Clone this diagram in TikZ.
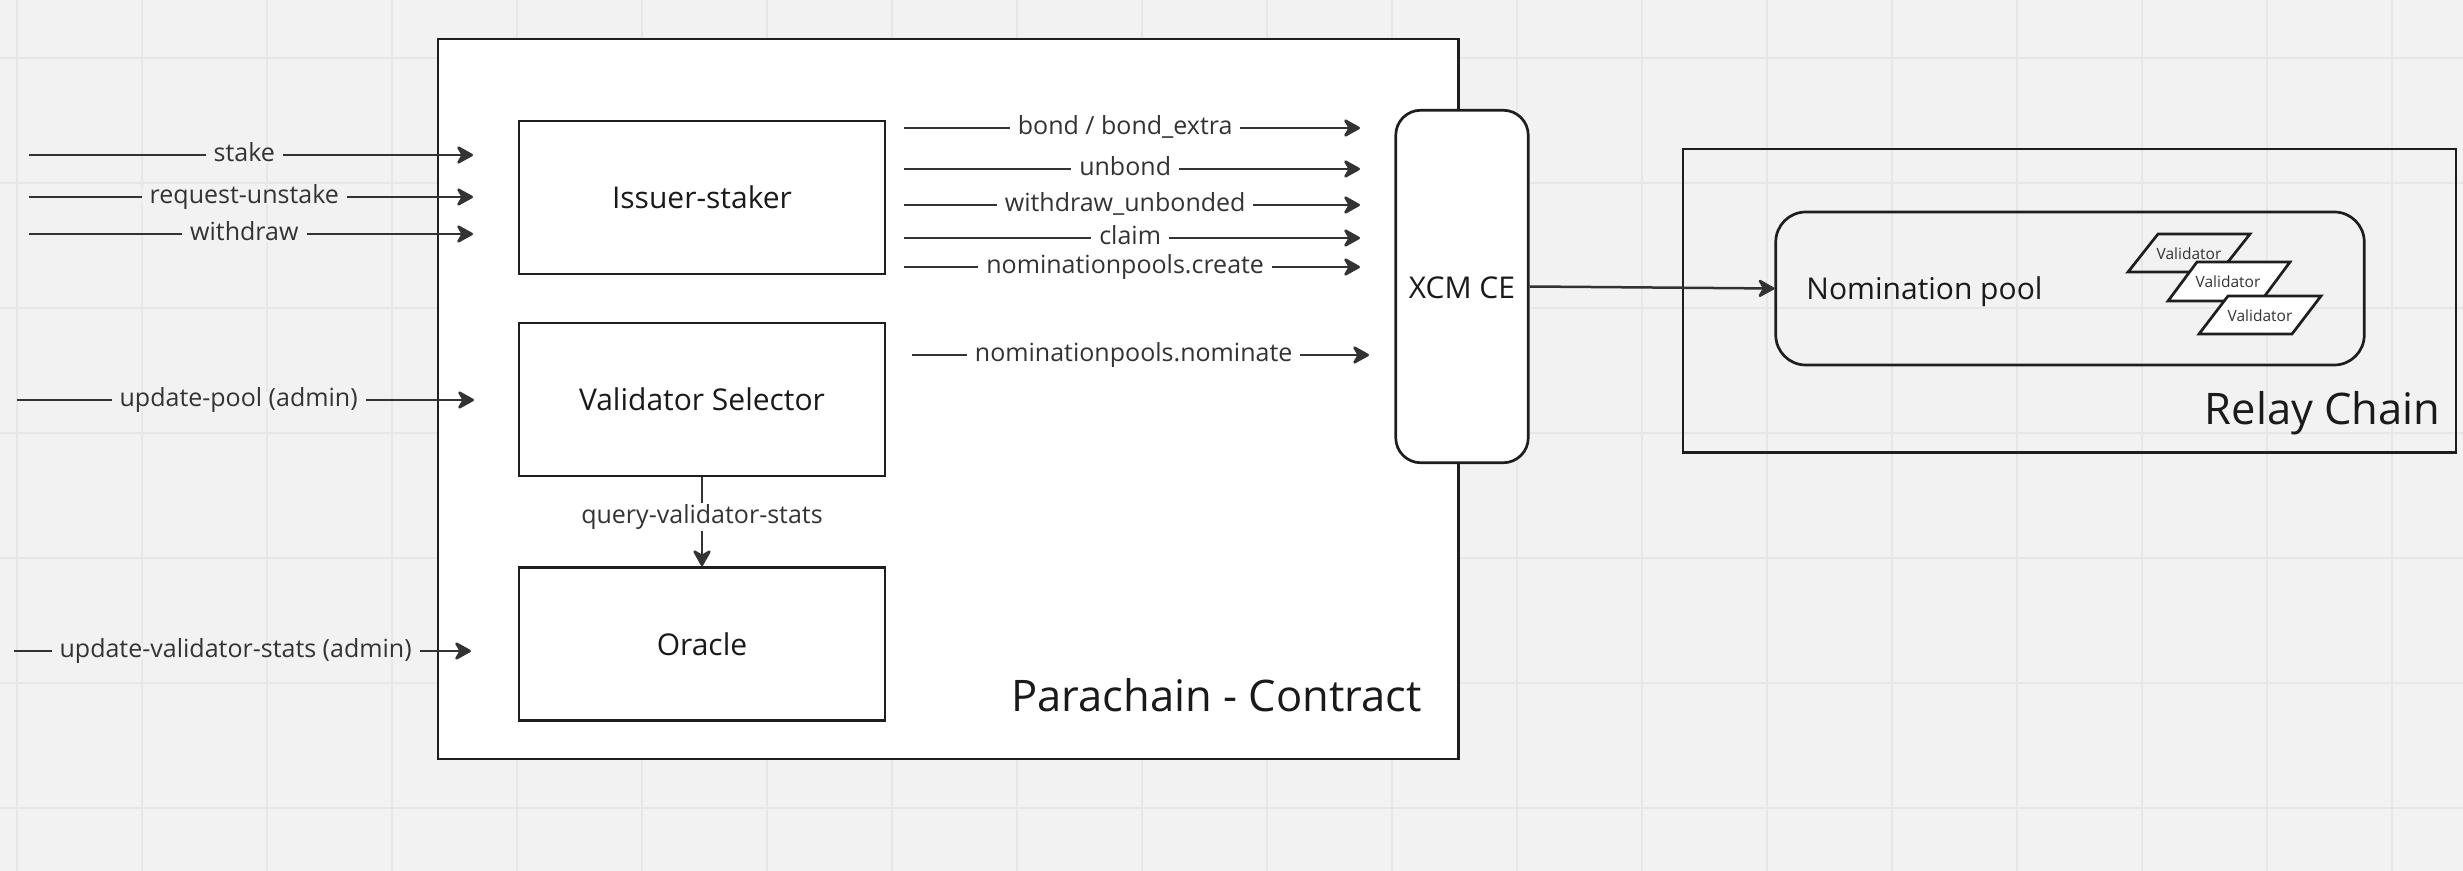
\documentclass[tikz,border=0pt]{standalone}
\usepackage{fontspec}
\setmainfont{Open Sans}
\usetikzlibrary{arrows.meta}
\definecolor{bg}{HTML}{F2F2F2}
\definecolor{gridc}{HTML}{E7E7E7}
\definecolor{linec}{HTML}{333333}
\definecolor{boxc}{HTML}{1E1E1E}
\definecolor{txtc}{HTML}{1A1A1A}
\begin{document}
\begin{tikzpicture}[x=0.5pt,y=-0.5pt,
  box/.style={draw=boxc, line width=1.35pt, fill=white, minimum width=183pt, minimum height=76.5pt, inner sep=0pt, font=\fontsize{15}{18}\selectfont, text=txtc},
  frame/.style={draw=boxc, line width=1.35pt, inner sep=0pt},
  title/.style={font=\fontsize{21.75}{26}\selectfont, text=txtc, inner sep=0pt},
  arr/.style={draw=linec, line width=1.25pt, -{Stealth[length=9.5pt,width=10.5pt,inset=3pt,round]}},
  lbl/.style={font=\fontsize{12.5}{15}\selectfont, text=linec, inner xsep=4pt, inner ysep=1pt, text height=0.62em, text depth=0pt, pos=0.485},
  vtxt/.style={font=\fontsize{7.75}{9}\selectfont, text=linec, inner sep=0pt},
  valid/.style={draw=boxc, line width=1.35pt, line join=miter}
]
\fill[bg] (0,0) rectangle (2463,871);
\useasboundingbox (0,0) rectangle (2463,871);
\foreach \i in {0,...,19} \draw[gridc, line width=1pt] ({16.7+125*\i},0) -- ({16.7+125*\i},871);
\foreach \i in {0,...,6} \draw[gridc, line width=1pt] (0,{57.7+125*\i}) -- (2463,{57.7+125*\i});

% Parachain
\node[frame, fill=white, minimum width=510.25pt, minimum height=360pt] (para) at (948.25,399) {};
\node[title, anchor=base east] (paratitle) at (1422,711) {Parachain - Contract};

\node[box] (issuer) at (702,197.5) {Issuer-staker};
\node[box] (vsel) at (702,399.5) {Validator Selector};
\node[box] (oracle) at (702,644) {Oracle};

% XCM CE
\node[frame, fill=white, rounded corners=12.5pt, minimum width=66.25pt, minimum height=176.25pt] (xcm) at (1462,286.5) {};
\node[font=\fontsize{15}{18}\selectfont, text=txtc, inner sep=0pt] (xcmtxt) at (1462,288) {XCM CE};

% Relay chain
\node[frame, minimum width=386.5pt, minimum height=151.75pt] (relay) at (2069.5,300.75) {};
\node[title, anchor=base east] (relaytitle) at (2441,425) {Relay Chain};
\node[frame, rounded corners=15pt, minimum width=294.25pt, minimum height=76.5pt] (pool) at (2070,288.5) {};
\node[font=\fontsize{15}{18}\selectfont, text=txtc, inner sep=0pt, anchor=base west] (pooltxt) at (1806,300) {Nomination pool};

% Validators
\draw[valid] (2128,272) -- (2158,234) -- (2250,234) -- (2220,272) -- cycle;
\node[vtxt] (v1) at (2189,254) {Validator};
\draw[valid, fill=white] (2168,301) -- (2197,262) -- (2290,262) -- (2261,301) -- cycle;
\node[vtxt] (v2) at (2228,282) {Validator};
\draw[valid, fill=white] (2199,334) -- (2228,296) -- (2321,296) -- (2292,334) -- cycle;
\node[vtxt] (v3) at (2260,316) {Validator};

% Left inputs
\coordinate (s1) at (29,155);  \coordinate (e1) at (473,155);
\coordinate (s2) at (29,197);  \coordinate (e2) at (473,197);
\coordinate (s3) at (29,234);  \coordinate (e3) at (473,234);
\coordinate (s4) at (17,400);  \coordinate (e4) at (474,400);
\coordinate (s5) at (14,651);  \coordinate (e5) at (471,651);
\draw[arr] (s1) -- node[lbl, fill=bg] {stake} (e1);
\draw[arr] (s2) -- node[lbl, fill=bg] {request-unstake} (e2);
\draw[arr] (s3) -- node[lbl, fill=bg] {withdraw} (e3);
\draw[arr] (s4) -- node[lbl, fill=bg] {update-pool (admin)} (e4);
\draw[arr] (s5) -- node[lbl, fill=bg] {update-validator-stats (admin)} (e5);

% Right outputs
\coordinate (r1) at (904,128);  \coordinate (t1) at (1360,128);
\coordinate (r2) at (904,169);  \coordinate (t2) at (1360,169);
\coordinate (r3) at (904,205);  \coordinate (t3) at (1360,205);
\coordinate (r4) at (904,238);  \coordinate (t4) at (1360,238);
\coordinate (r5) at (904,267);  \coordinate (t5) at (1360,267);
\coordinate (r6) at (912,355);  \coordinate (t6) at (1369,355);
\draw[arr] (r1) -- node[lbl, fill=white] {bond / bond\_extra} (t1);
\draw[arr] (r2) -- node[lbl, fill=white] {unbond} (t2);
\draw[arr] (r3) -- node[lbl, fill=white] {withdraw\_unbonded} (t3);
\draw[arr] (r4) -- node[lbl, fill=white, pos=0.496] {claim} (t4);
\draw[arr] (r5) -- node[lbl, fill=white] {nominationpools.create} (t5);
\draw[arr] (r6) -- node[lbl, fill=white] {nominationpools.nominate} (t6);

% Query
\draw[arr] (vsel.south) -- node[lbl, fill=white, pos=0.446, inner ysep=4pt, inner xsep=1pt] {query-validator-stats} (oracle.north);

% XCM to pool
\draw[arr] (xcm.east) -- (pool.west);
\end{tikzpicture}
\end{document}
